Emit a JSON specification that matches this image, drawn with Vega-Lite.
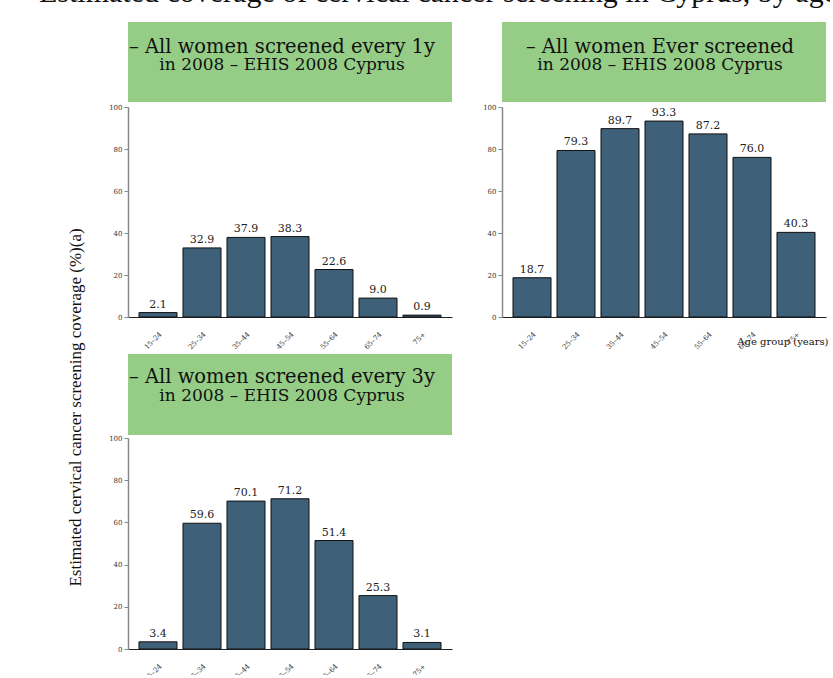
{
  "$schema": "https://vega.github.io/schema/vega-lite/v6.json",
  "background": "white",
  "padding": {"left": 38, "top": -23, "right": -85, "bottom": -8},
  "title": {"text": "Estimated coverage of cervical cancer screening in Cyprus, by age group", "font": "Liberation Serif", "fontSize": 30, "fontWeight": "normal", "color": "#111", "anchor": "start", "dx": -27, "baseline": "alphabetic", "offset": -10},
  "bounds": "flush",
  "columns": 2,
  "spacing": {"row": 121, "column": 50},
  "concat": [
    {
      "width": 324, "height": 210,
      "layer": [
        {
          "data": {"values": [{"line1": "– All women screened every 1y", "line2": "in 2008 – EHIS 2008 Cyprus"}]},
          "layer": [
            {"mark": {"type": "rect", "fill": "#95cd87"}, "encoding": {"y": {"datum": 140.5, "type": "quantitative", "scale": {"domain": [0, 100]}, "axis": {"title": null}}, "y2": {"datum": 102.4}}},
            {"mark": {"type": "text", "font": "DejaVu Serif", "fontSize": 19.5, "baseline": "alphabetic", "dx": -8, "color": "#111"}, "encoding": {"y": {"datum": 125.7, "type": "quantitative", "scale": {"domain": [0, 100]}, "axis": {"title": null}}, "text": {"field": "line1"}}},
            {"mark": {"type": "text", "font": "DejaVu Serif", "fontSize": 17, "baseline": "alphabetic", "dx": -8, "color": "#111"}, "encoding": {"y": {"datum": 117.6, "type": "quantitative", "scale": {"domain": [0, 100]}, "axis": {"title": null}}, "text": {"field": "line2"}}}
          ]
        },
        {
          "data": {"values": [
            {"age": "15–24", "pct": 2.1}, {"age": "25–34", "pct": 32.9}, {"age": "35–44", "pct": 37.9},
            {"age": "45–54", "pct": 38.3}, {"age": "55–64", "pct": 22.6}, {"age": "65–74", "pct": 9.0}, {"age": "75+", "pct": 0.9}
          ]},
          "encoding": {
            "x": {"field": "age", "type": "nominal", "sort": null, "scale": {"paddingInner": 0.136, "paddingOuter": 0.25}, "axis": {"title": null}},
            "y": {"field": "pct", "type": "quantitative", "scale": {"domain": [0, 100]}, "axis": {"title": null}}
          },
          "layer": [
            {"mark": {"type": "bar", "fill": "#3e6079", "stroke": "#111", "strokeWidth": 1}},
            {"mark": {"type": "text", "baseline": "alphabetic", "dy": -5, "font": "DejaVu Serif", "fontSize": 11, "color": "#222"}, "encoding": {"text": {"field": "pct", "type": "quantitative", "format": ".1f"}}}
          ]
        }
      ]
    },
    {
      "width": 324, "height": 210,
      "layer": [
        {
          "data": {"values": [{"line1": "– All women Ever screened", "line2": "in 2008 – EHIS 2008 Cyprus"}]},
          "layer": [
            {"mark": {"type": "rect", "fill": "#95cd87"}, "encoding": {"y": {"datum": 140.5, "type": "quantitative", "scale": {"domain": [0, 100]}, "axis": {"title": null}}, "y2": {"datum": 102.4}}},
            {"mark": {"type": "text", "font": "DejaVu Serif", "fontSize": 19.5, "baseline": "alphabetic", "dx": -4, "color": "#111"}, "encoding": {"y": {"datum": 125.7, "type": "quantitative", "scale": {"domain": [0, 100]}, "axis": {"title": null}}, "text": {"field": "line1"}}},
            {"mark": {"type": "text", "font": "DejaVu Serif", "fontSize": 17, "baseline": "alphabetic", "dx": -4, "color": "#111"}, "encoding": {"y": {"datum": 117.6, "type": "quantitative", "scale": {"domain": [0, 100]}, "axis": {"title": null}}, "text": {"field": "line2"}}}
          ]
        },
        {
          "data": {"values": [
            {"age": "15–24", "pct": 18.7}, {"age": "25–34", "pct": 79.3}, {"age": "35–44", "pct": 89.7},
            {"age": "45–54", "pct": 93.3}, {"age": "55–64", "pct": 87.2}, {"age": "65–74", "pct": 76.0}, {"age": "75+", "pct": 40.3}
          ]},
          "encoding": {
            "x": {"field": "age", "type": "nominal", "sort": null, "scale": {"paddingInner": 0.136, "paddingOuter": 0.25},
              "axis": {"title": "Age group (years)", "titleFont": "DejaVu Serif", "titleFontSize": 10, "titleFontWeight": "normal", "titleColor": "#111", "titleX": 326, "titleY": 27, "titleAlign": "right", "titleBaseline": "alphabetic", "titleAngle": 0}},
            "y": {"field": "pct", "type": "quantitative", "scale": {"domain": [0, 100]}, "axis": {"title": null}}
          },
          "layer": [
            {"mark": {"type": "bar", "fill": "#3e6079", "stroke": "#111", "strokeWidth": 1}},
            {"mark": {"type": "text", "baseline": "alphabetic", "dy": -5, "font": "DejaVu Serif", "fontSize": 11, "color": "#222"}, "encoding": {"text": {"field": "pct", "type": "quantitative", "format": ".1f"}}}
          ]
        }
      ]
    },
    {
      "width": 324, "height": 211,
      "layer": [
        {
          "data": {"values": [{"line1": "– All women screened every 3y", "line2": "in 2008 – EHIS 2008 Cyprus"}]},
          "layer": [
            {"mark": {"type": "rect", "fill": "#95cd87"}, "encoding": {"y": {"datum": 139.8, "type": "quantitative", "scale": {"domain": [0, 100]}, "axis": {"title": "Estimated cervical cancer screening coverage (%)(a)"}}, "y2": {"datum": 101.4}}},
            {"mark": {"type": "text", "font": "DejaVu Serif", "fontSize": 19.5, "baseline": "alphabetic", "dx": -8, "color": "#111"}, "encoding": {"y": {"datum": 126, "type": "quantitative", "scale": {"domain": [0, 100]}, "axis": {"title": "Estimated cervical cancer screening coverage (%)(a)"}}, "text": {"field": "line1"}}},
            {"mark": {"type": "text", "font": "DejaVu Serif", "fontSize": 17, "baseline": "alphabetic", "dx": -8, "color": "#111"}, "encoding": {"y": {"datum": 117.3, "type": "quantitative", "scale": {"domain": [0, 100]}, "axis": {"title": "Estimated cervical cancer screening coverage (%)(a)"}}, "text": {"field": "line2"}}}
          ]
        },
        {
          "data": {"values": [
            {"age": "15–24", "pct": 3.4}, {"age": "25–34", "pct": 59.6}, {"age": "35–44", "pct": 70.1},
            {"age": "45–54", "pct": 71.2}, {"age": "55–64", "pct": 51.4}, {"age": "65–74", "pct": 25.3}, {"age": "75+", "pct": 3.1}
          ]},
          "encoding": {
            "x": {"field": "age", "type": "nominal", "sort": null, "scale": {"paddingInner": 0.136, "paddingOuter": 0.25}, "axis": {"title": null}},
            "y": {"field": "pct", "type": "quantitative", "scale": {"domain": [0, 100]},
              "axis": {"title": "Estimated cervical cancer screening coverage (%)(a)"}}
          },
          "layer": [
            {"mark": {"type": "bar", "fill": "#3e6079", "stroke": "#111", "strokeWidth": 1}},
            {"mark": {"type": "text", "baseline": "alphabetic", "dy": -5, "font": "DejaVu Serif", "fontSize": 11, "color": "#222"}, "encoding": {"text": {"field": "pct", "type": "quantitative", "format": ".1f"}}}
          ]
        }
      ]
    }
  ],
  "config": {
    "view": {"stroke": null},
    "axis": {"labelFont": "DejaVu Serif", "labelFontSize": 7, "labelColor": "#333", "grid": false},
    "axisX": {"domainColor": "#222", "domainWidth": 1, "ticks": false, "labelAngle": -45, "labelPadding": 13},
    "axisY": {"domainColor": "#888", "domainWidth": 1.5, "tickColor": "#888", "tickSize": 4, "labelPadding": 2, "values": [0, 20, 40, 60, 80, 100],
      "titleFont": "Liberation Serif", "titleFontSize": 17, "titleFontWeight": "normal", "titleColor": "#111", "titleX": -53, "titleY": -31, "titleAlign": "center", "titleBaseline": "middle", "titleAngle": -90}
  }
}
